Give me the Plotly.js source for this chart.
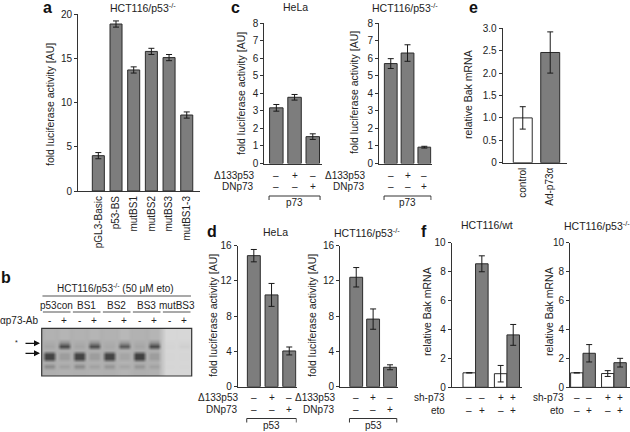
<!DOCTYPE html>
<html><head><meta charset="utf-8">
<script src="https://cdn.plot.ly/plotly-3.0.1.min.js"></script>
<style>html,body{margin:0;padding:0;background:#fff;}#chart{width:630px;height:432px;}</style>
</head><body><div id="chart"></div>
<script>
// ================= DATA =================
// panel a
const aCategories = ['pGL3-Basic','p53-BS','mutBS1','mutBS2','mutBS3','mutBS1-3'];
const aValues = [4.0, 18.9, 13.7, 15.8, 15.1, 8.6];
const aErrors = [0.35, 0.35, 0.35, 0.35, 0.35, 0.35];

// panel b (EMSA gel, read as relative band darkness per lane)
const gelGroups = ['p53con','BS1','BS2','BS3','mutBS3'];
const gelAb = ['-','+','-','+','-','+','-','+','-','+'];
const gelBackground = [0.36,0.34,0.36,0.34,0.36,0.32,0.36,0.34,0.07,0.07];
const gelShiftedBand = [0.42,0.88,0.42,0.86,0.4,0.8,0.42,0.88,0.09,0.12];
const gelFreeBand = [0.9,0.46,0.9,0.46,0.9,0.42,0.92,0.46,0.08,0.08];
const gelLowBand = [0.55,0.44,0.55,0.44,0.5,0.42,0.5,0.44,0.08,0.08];
const gelRowKind = ['top','top','top','shiftEdge','shift','between','free','free','between','low','bottom','bottom'];

// panel c
const cConditions = ['p73','p73+Δ133p53','p73+DNp73'];
const cDelta133 = ['–','+','–'];
const cDNp73 = ['–','–','+'];
const cHelaValues = [3.17, 3.77, 1.53];
const cHelaErrors = [0.19, 0.16, 0.16];
const cHctValues = [5.69, 6.29, 0.93];
const cHctErrors = [0.28, 0.47, 0.05];

// panel d
const dConditions = ['p53','p53+Δ133p53','p53+DNp73'];
const dDelta133 = ['–','+','–'];
const dDNp73 = ['–','–','+'];
const dHelaValues = [14.85, 10.4, 4.05];
const dHelaErrors = [0.7, 1.3, 0.45];
const dHctValues = [12.4, 7.66, 2.2];
const dHctErrors = [1.1, 1.15, 0.28];

// panel e
const eCategories = ['control','Ad-p73α'];
const eValues = [1.0, 2.46];
const eErrors = [0.25, 0.46];
const eTickVals = [0, 0.5, 1.0, 1.5, 2.0, 2.5, 3.0];
const eTickText = ['0','0.5','1.0','1.5','2.0','2.5','3.0'];

// panel f (groups = sh-p73 −/+ ; white = no eto, grey = eto)
const fShp73 = ['–','+'];
const fWtNoEto = [1.0, 0.94];
const fWtNoEtoErr = [0, 0.57];
const fWtEto = [8.53, 3.62];
const fWtEtoErr = [0.55, 0.72];
const fKoNoEto = [1.0, 0.95];
const fKoNoEtoErr = [0, 0.2];
const fKoEto = [2.35, 1.7];
const fKoEtoErr = [0.6, 0.3];

// ================= LAYOUT HELPERS =================
const F = 'Liberation Sans, Arial, Helvetica, sans-serif';
const W = 630, H = 432;
const X = p => p / W;
const Y = p => 1 - p / H;
const GREY = '#7d7d7d', EDGE = '#2b2b2b', TXT = '#222';

function bar(xs, ys, errs, xa, ya, width, color, offset) {
  const t = {type:'bar', x:xs, y:ys, xaxis:xa, yaxis:ya, width:width,
    marker:{color:color, line:{color:EDGE, width:1}},
    error_y:{type:'data', array:errs, visible:true, color:'#1a1a1a', thickness:1, width:3},
    hoverinfo:'skip', showlegend:false};
  if (offset !== undefined) t.offset = offset;
  return t;
}
const base = {showgrid:false, zeroline:false, showline:true, linecolor:'#333', linewidth:1,
  tickfont:{family:F, size:10, color:TXT}, fixedrange:true};
function xAx(l, r, range, anchor, extra) {
  return Object.assign({}, base, {domain:[X(l), X(r)], range:range, anchor:anchor,
    ticks:'', showticklabels:false}, extra || {});
}
function yAx(bottom, top, range, anchor, extra) {
  return Object.assign({}, base, {domain:[Y(bottom), Y(top)], range:range, anchor:anchor,
    ticks:'outside', ticklen:3, tickwidth:1, tickcolor:'#333'}, extra || {});
}

const traces = [];
const annotations = [];
const shapes = [];
function txt(x, y, text, opts) {
  annotations.push(Object.assign({xref:'paper', yref:'paper', x:X(x), y:Y(y), text:text,
    showarrow:false, font:{family:F, size:10, color:TXT}, xanchor:'center', yanchor:'middle'}, opts || {}));
}
function dataTxt(xref, x, y, text, size) {
  annotations.push({xref:xref, yref:'paper', x:x, y:Y(y), text:text, showarrow:false,
    font:{family:F, size:size || 10, color:TXT}, xanchor:'center', yanchor:'middle'});
}
function letter(x, y, t) { txt(x, y, '<b>' + t + '</b>', {font:{family:F, size:16, color:'#111'}}); }
function ylab(x, y, t) { txt(x, y, t, {textangle:-90, font:{family:F, size:10.5, color:TXT}}); }
function bracket(xref, x0, x1, y, label) {
  shapes.push({type:'path', xref:xref, yref:'paper',
    path:`M ${x0},${Y(y + 4)} L ${x0},${Y(y)} L ${x1},${Y(y)} L ${x1},${Y(y + 4)}`,
    line:{color:'#333', width:1}});
  dataTxt(xref, (x0 + x1) / 2, y + 6.5, label);
}

// ================= PANEL a =================
traces.push(bar(aCategories, aValues, aErrors, 'x', 'y', 0.68, GREY));
const layout = {
  width:W, height:H, margin:{l:0, r:0, t:0, b:0}, paper_bgcolor:'#fff', plot_bgcolor:'rgba(0,0,0,0)',
  barmode:'overlay', showlegend:false, font:{family:F, color:TXT},
  xaxis: xAx(78, 200, [-1.15, 5.75], 'y', {type:'category', showticklabels:true, tickangle:-90}),
  yaxis: yAx(191, 14.3, [0, 20], 'x', {dtick:5}),
};
letter(47, 8, 'a');
txt(143, 7, 'HCT116/p53<sup>-/-</sup>', {font:{family:F, size:10.5, color:TXT}});
ylab(50, 105, 'fold luciferase activity [AU]');

// ================= PANEL c =================
traces.push(bar(cConditions, cHelaValues, cHelaErrors, 'x2', 'y2', 0.74, GREY));
traces.push(bar(cConditions, cHctValues, cHctErrors, 'x3', 'y3', 0.76, GREY));
layout.xaxis2 = xAx(264.3, 321.7, [-0.66, 2.49], 'y2', {type:'category'});
layout.yaxis2 = yAx(163.5, 23, [0, 8], 'x2', {dtick:1});
layout.xaxis3 = xAx(379, 431.7, [-0.7, 2.44], 'y3', {type:'category'});
layout.yaxis3 = yAx(163.5, 23, [0, 8], 'x3', {dtick:1});
letter(235, 7, 'c');
txt(295, 7, 'HeLa', {font:{family:F, size:10.5, color:TXT}});
txt(405, 7, 'HCT116/p53<sup>-/-</sup>', {font:{family:F, size:10.5, color:TXT}});
ylab(241, 93, 'fold luciferase activity [AU]');
ylab(354, 93, 'fold luciferase activity [AU]');
[['x2', 255.7], ['x3', 367.3]].forEach(([xr, lx]) => {
  txt(lx, 175.7, 'Δ133p53', {xanchor:'right'});
  txt(lx, 186.7, 'DNp73', {xanchor:'right'});
  cDelta133.forEach((s, i) => dataTxt(xr, i, 175.7, s));
  cDNp73.forEach((s, i) => dataTxt(xr, i, 186.7, s));
  bracket(xr, -0.4, 2.4, 196, 'p73');
});

// ================= PANEL d =================
traces.push(bar(dConditions, dHelaValues, dHelaErrors, 'x4', 'y4', 0.73, GREY));
traces.push(bar(dConditions, dHctValues, dHctErrors, 'x5', 'y5', 0.76, GREY));
layout.xaxis4 = xAx(237.7, 296.7, [-0.91, 2.42], 'y4', {type:'category'});
layout.yaxis4 = yAx(386.7, 245.5, [0, 16], 'x4', {dtick:4});
layout.xaxis5 = xAx(340, 398.3, [-0.96, 2.49], 'y5', {type:'category'});
layout.yaxis5 = yAx(386.7, 245.5, [0, 16], 'x5', {dtick:4});
letter(212, 231, 'd');
txt(275, 232, 'HeLa', {font:{family:F, size:10.5, color:TXT}});
txt(367, 232, 'HCT116/p53<sup>-/-</sup>', {font:{family:F, size:10.5, color:TXT}});
ylab(213, 316, 'fold luciferase activity [AU]');
ylab(312, 316, 'fold luciferase activity [AU]');
[['x4', 240], ['x5', 336.7]].forEach(([xr, lx]) => {
  txt(lx, 397.5, 'Δ133p53', {xanchor:'right'});
  txt(lx, 409.5, 'DNp73', {xanchor:'right'});
  dDelta133.forEach((s, i) => dataTxt(xr, i, 397.5, s));
  dDNp73.forEach((s, i) => dataTxt(xr, i, 409.5, s));
  bracket(xr, -0.4, 2.4, 418.5, 'p53');
});

// ================= PANEL e =================
traces.push(bar(eCategories, eValues, eErrors, 'x6', 'y6', 0.69, ['#ffffff', GREY]));
layout.xaxis6 = xAx(502.7, 566.7, [-0.73, 1.6], 'y6', {type:'category', showticklabels:true, tickangle:-90});
layout.yaxis6 = yAx(162.7, 28.3, [0, 3], 'x6', {tickvals:eTickVals, ticktext:eTickText});
letter(473, 7, 'e');
ylab(468, 95, 'relative Bak mRNA');

// ================= PANEL f =================
const fw = 0.4;
traces.push(bar([0, 1], fWtNoEto, fWtNoEtoErr, 'x7', 'y7', fw, '#ffffff', -fw));
traces.push(bar([0, 1], fWtEto, fWtEtoErr, 'x7', 'y7', fw, GREY, 0));
traces.push(bar([0, 1], fKoNoEto, fKoNoEtoErr, 'x8', 'y8', fw, '#ffffff', -fw));
traces.push(bar([0, 1], fKoEto, fKoEtoErr, 'x8', 'y8', fw, GREY, 0));
layout.xaxis7 = xAx(451.7, 522, [-0.76, 1.48], 'y7', {type:'linear'});
layout.yaxis7 = yAx(387.3, 242.5, [0, 10], 'x7', {dtick:2});
layout.xaxis8 = xAx(570, 630, [-0.42, 1.52], 'y8', {type:'linear'});
layout.yaxis8 = yAx(387.3, 242.5, [0, 10], 'x8', {dtick:2});
letter(424, 231, 'f');
txt(487, 225, 'HCT116/wt', {font:{family:F, size:10.5, color:TXT}});
txt(597, 225, 'HCT116/p53<sup>-/-</sup>', {font:{family:F, size:10.5, color:TXT}});
ylab(427, 312, 'relative Bak mRNA');
ylab(549, 312, 'relative Bak mRNA');
[['x7', 447], ['x8', 566]].forEach(([xr, lx]) => {
  txt(lx, 397.7, 'sh-p73', {xanchor:'right'});
  txt(lx, 410, 'eto', {xanchor:'right'});
  fShp73.forEach((s, g) => {
    dataTxt(xr, g - fw / 2, 397.7, s); dataTxt(xr, g + fw / 2, 397.7, s);
    dataTxt(xr, g - fw / 2, 410, '–'); dataTxt(xr, g + fw / 2, 410, '+');
  });
});

// ================= PANEL b (gel) =================
const gelX = [], gelY = [], gelZ = [];
const nLanes = gelAb.length;
for (let c = 0; c <= nLanes * 4; c++) gelX.push(-0.5 + 0.25 * c);
function laneVal(kind, k) {
  const bg = gelBackground[k];
  if (kind === 'top') return bg * 0.92;
  if (kind === 'shiftEdge') return (2 * bg + gelShiftedBand[k]) / 3;
  if (kind === 'shift') return gelShiftedBand[k];
  if (kind === 'free') return gelFreeBand[k];
  if (kind === 'low') return gelLowBand[k];
  return bg;
}
gelRowKind.forEach((kind, r) => {
  gelY.push(r);
  const row = [];
  for (let c = 0; c <= nLanes * 4; c++) {
    if (c % 4 === 0) {
      const k = c / 4;
      const left = k - 1 >= 0 ? gelBackground[k - 1] : gelBackground[k];
      const right = k < nLanes ? gelBackground[k] : gelBackground[k - 1];
      row.push((left + right) / 2);
    } else {
      row.push(laneVal(kind, Math.floor(c / 4)));
    }
  }
  gelZ.push(row);
});
traces.push({type:'heatmap', x:gelX, y:gelY, z:gelZ, xaxis:'x9', yaxis:'y9', zmin:0, zmax:1,
  zsmooth:'best', showscale:false, hoverinfo:'skip',
  colorscale:[[0, '#e0e0e0'], [0.4, '#a9a9a9'], [1, '#303030']]});
layout.xaxis9 = {domain:[X(41.7), X(191.7)], range:[-0.5, nLanes - 0.5], anchor:'y9', visible:false, fixedrange:true};
layout.yaxis9 = {domain:[Y(376), Y(328.3)], range:[gelRowKind.length - 0.5, -0.5], anchor:'x9', visible:false, fixedrange:true};
shapes.push({type:'rect', xref:'paper', yref:'paper', x0:X(41.7), x1:X(191.7), y0:Y(376), y1:Y(328.3),
  line:{color:'#333', width:1.2}});
letter(6, 277, 'b');
txt(115, 288, 'HCT116/p53<sup>-/-</sup> (50 μM eto)', {font:{family:F, size:10, color:TXT}});
shapes.push({type:'line', xref:'x9', yref:'paper', x0:-0.45, x1:nLanes - 0.55, y0:Y(296), y1:Y(296), line:{color:'#555', width:1.2}});
gelGroups.forEach((g, i) => {
  dataTxt('x9', 2 * i + 0.5, 305, g);
  shapes.push({type:'line', xref:'x9', yref:'paper', x0:2 * i - 0.42, x1:2 * i + 1.42, y0:Y(312), y1:Y(312), line:{color:'#555', width:1.2}});
});
txt(40, 320, 'αp73-Ab', {xanchor:'right'});
gelAb.forEach((s, i) => dataTxt('x9', i, 320, s));
[343.3, 353.3].forEach(yy => annotations.push({xref:'paper', yref:'paper', x:X(40), y:Y(yy), ax:-16, ay:0,
  text:'', showarrow:true, arrowhead:2, arrowsize:1, arrowwidth:1.2, arrowcolor:'#111'}));
txt(16, 342, '*', {font:{family:F, size:7, color:TXT}});

layout.annotations = annotations;
layout.shapes = shapes;
Plotly.newPlot('chart', traces, layout, {displayModeBar:false, staticPlot:true});
</script></body></html>
